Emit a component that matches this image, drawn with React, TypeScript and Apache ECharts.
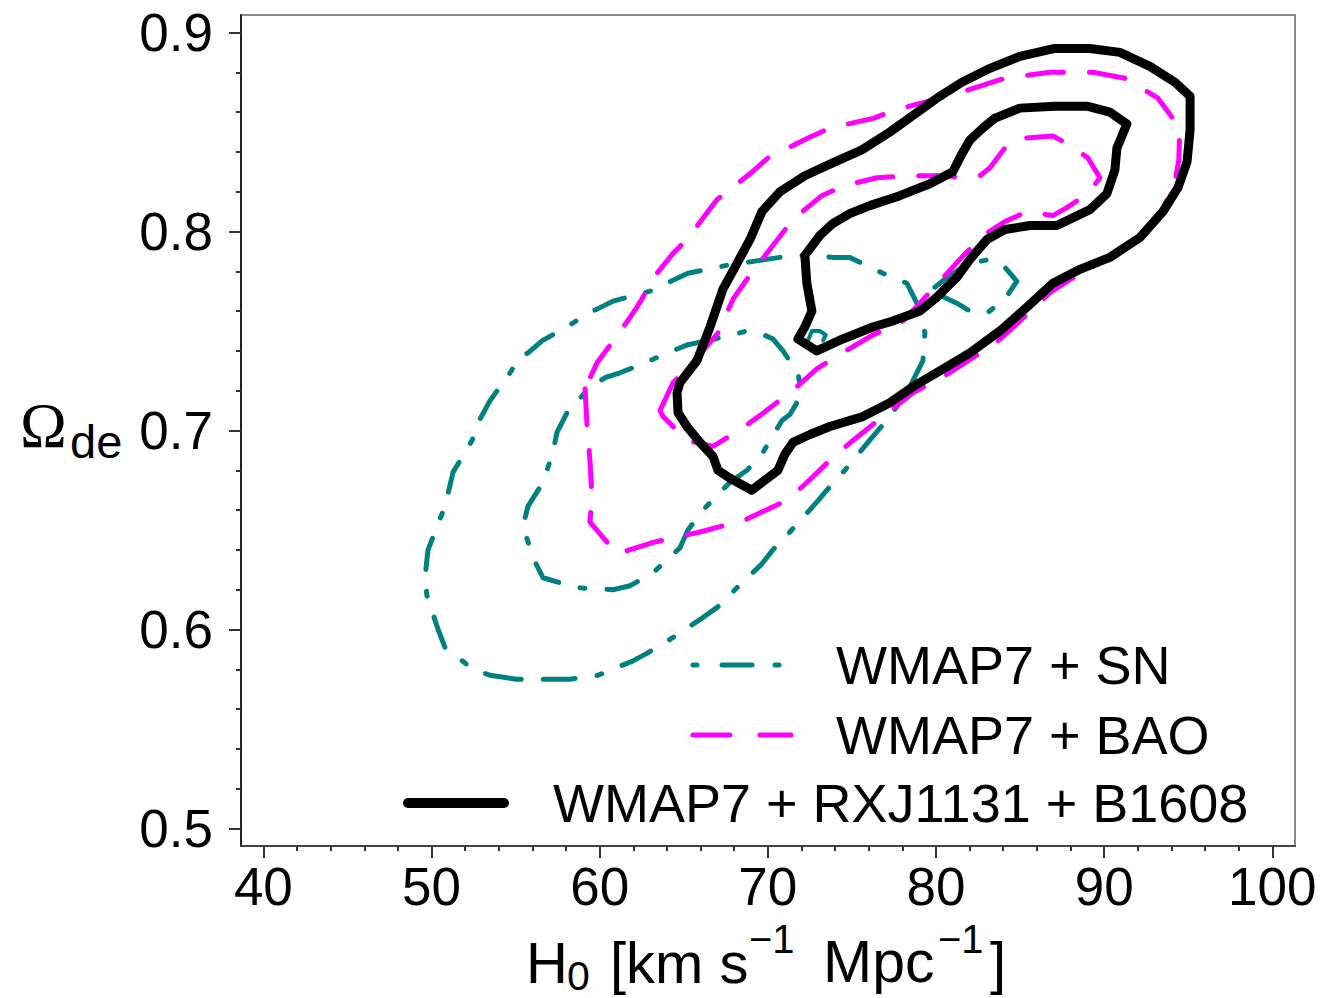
import React, { useEffect, useRef } from "react";
import * as echarts from "echarts";

// ---- axis ranges and ticks ----
const X_MIN = 38.67;
const X_MAX = 101.35;
const Y_MIN = 0.4912;
const Y_MAX = 0.9088;
const xMajorTicks = [40, 50, 60, 70, 80, 90, 100];
const xMinorTicks = [42, 44, 46, 48, 52, 54, 56, 58, 62, 64, 66, 68, 72, 74, 76, 78, 82, 84, 86, 88, 92, 94, 96, 98];
const yMajorTicks = [0.5, 0.6, 0.7, 0.8, 0.9];
const yMinorTicks = [0.52, 0.54, 0.56, 0.58, 0.62, 0.64, 0.66, 0.68, 0.72, 0.74, 0.76, 0.78, 0.82, 0.84, 0.86, 0.88];

const legendLabels = ["WMAP7 + SN", "WMAP7 + BAO", "WMAP7 + RXJ1131 + B1608"];

// ---- contours: [H0, Omega_de] ----
// WMAP7 + SN (teal, dash-dot)
const snOuter = [
  [55.08, 0.575], [53.48, 0.577], [52.47, 0.580], [50.80, 0.591], [50.39, 0.600], [49.73, 0.617],
  [49.61, 0.626], [49.79, 0.640], [50.62, 0.658], [50.92, 0.666], [51.28, 0.679], [52.41, 0.695],
  [52.77, 0.704], [53.48, 0.715], [54.67, 0.729], [55.26, 0.737], [55.74, 0.739], [56.57, 0.745],
  [58.41, 0.754], [59.30, 0.759], [59.84, 0.761], [60.79, 0.765], [62.99, 0.770], [65.25, 0.779],
  [67.57, 0.783], [70.72, 0.787], [72.09, 0.788], [73.86, 0.787], [74.87, 0.787], [76.84, 0.779],
  [78.27, 0.774], [78.86, 0.764], [79.16, 0.757], [79.34, 0.749], [79.22, 0.735], [78.27, 0.719],
  [77.67, 0.712], [76.96, 0.704], [75.95, 0.694], [74.58, 0.680], [73.51, 0.670], [72.91, 0.664],
  [71.31, 0.649], [70.30, 0.640], [69.65, 0.633], [68.04, 0.620], [66.97, 0.611], [66.14, 0.606],
  [64.18, 0.595], [62.81, 0.588], [61.92, 0.584], [59.90, 0.577], [58.23, 0.575], [57.22, 0.575],
  [55.08, 0.575],
];
const snIsland = [
  [79.93, 0.772], [80.83, 0.778], [82.02, 0.784], [83.21, 0.786], [84.10, 0.782], [84.81, 0.775],
  [84.10, 0.766], [83.03, 0.759], [82.02, 0.760], [81.24, 0.764], [80.23, 0.768], [79.93, 0.772],
];
const snInner = [
  [65.19, 0.743], [66.85, 0.746], [68.76, 0.750], [69.53, 0.749], [70.30, 0.746], [70.90, 0.740],
  [71.79, 0.729], [71.91, 0.723], [71.73, 0.714], [71.31, 0.708], [70.84, 0.705], [69.71, 0.689],
  [68.76, 0.680], [67.75, 0.674], [66.14, 0.660], [65.25, 0.650], [64.77, 0.641], [63.11, 0.628],
  [61.80, 0.622], [60.79, 0.620], [58.65, 0.621], [57.82, 0.623], [56.63, 0.626], [56.04, 0.636],
  [55.44, 0.652], [55.74, 0.662], [56.63, 0.674], [57.22, 0.689], [57.46, 0.699], [58.12, 0.710],
  [59.60, 0.723], [60.44, 0.727], [61.21, 0.729], [62.10, 0.732], [64.06, 0.739], [65.19, 0.743],
];
const snSpeck = [
  [72.38, 0.745], [72.62, 0.750], [73.09, 0.750], [73.45, 0.748], [73.21, 0.744], [72.62, 0.744], [72.38, 0.745],
];

// WMAP7 + BAO (magenta, dashed)
const baoOuter = [
  [59.13, 0.721], [59.25, 0.702], [59.42, 0.685], [59.54, 0.667], [59.42, 0.654], [61.03, 0.638],
  [63.29, 0.644], [65.96, 0.649], [68.63, 0.655], [70.90, 0.664], [72.09, 0.672], [73.69, 0.685],
  [75.06, 0.695], [76.84, 0.707], [78.63, 0.719], [80.41, 0.727], [81.72, 0.734], [83.68, 0.745],
  [84.99, 0.755], [86.72, 0.769], [88.56, 0.779], [90.46, 0.788], [92.13, 0.798], [93.31, 0.809],
  [94.15, 0.822], [94.44, 0.836], [94.50, 0.852], [93.20, 0.867], [91.23, 0.877], [89.33, 0.880],
  [86.78, 0.880], [84.10, 0.877], [81.48, 0.870], [79.34, 0.865], [77.56, 0.861], [76.31, 0.857],
  [73.69, 0.852], [72.39, 0.847], [70.01, 0.837], [68.94, 0.829], [66.97, 0.816], [66.08, 0.806],
  [65.19, 0.796], [64.36, 0.789], [63.41, 0.779], [62.22, 0.762], [61.33, 0.751], [59.84, 0.734],
  [59.13, 0.721],
];
const baoInner = [
  [63.59, 0.710], [64.36, 0.724], [65.84, 0.737], [67.03, 0.749], [67.93, 0.766], [68.76, 0.776],
  [70.30, 0.793], [71.49, 0.806], [73.21, 0.818], [74.52, 0.823], [76.48, 0.827], [78.45, 0.828],
  [80.65, 0.828], [81.72, 0.827], [82.61, 0.828], [83.21, 0.832], [84.10, 0.842], [84.69, 0.846],
  [85.41, 0.847], [86.95, 0.848], [87.84, 0.844], [89.03, 0.837], [89.75, 0.827], [89.03, 0.819],
  [87.78, 0.812], [86.95, 0.808], [85.41, 0.810], [84.10, 0.805], [82.79, 0.798], [81.42, 0.786],
  [80.23, 0.775], [79.04, 0.764], [78.03, 0.755], [76.24, 0.748], [74.64, 0.740], [72.91, 0.731],
  [71.73, 0.722], [69.77, 0.709], [68.46, 0.701], [66.74, 0.692], [65.19, 0.695], [63.77, 0.707],
  [63.59, 0.710],
];

// WMAP7 + RXJ1131 + B1608 (black, solid)
const lensOuter = [
  [69.05, 0.670], [67.75, 0.676], [67.03, 0.680], [66.74, 0.687], [65.96, 0.694], [65.19, 0.702],
  [64.66, 0.709], [64.60, 0.719], [64.77, 0.724], [65.78, 0.735], [66.56, 0.752], [67.33, 0.771],
  [68.04, 0.782], [68.94, 0.796], [69.65, 0.810], [70.72, 0.820], [72.20, 0.828], [73.99, 0.835],
  [75.59, 0.841], [77.26, 0.850], [78.74, 0.859], [80.23, 0.868], [81.54, 0.875], [83.21, 0.882],
  [84.99, 0.888], [87.07, 0.892], [89.15, 0.892], [90.94, 0.890], [92.72, 0.883], [94.21, 0.875],
  [95.11, 0.868], [95.11, 0.851], [94.93, 0.835], [94.39, 0.822], [93.50, 0.810], [92.13, 0.797],
  [90.34, 0.787], [88.56, 0.781], [86.95, 0.774], [85.41, 0.762], [83.80, 0.750], [82.02, 0.739],
  [80.23, 0.730], [78.63, 0.722], [77.26, 0.714], [75.65, 0.707], [73.69, 0.702], [72.50, 0.698],
  [71.49, 0.694], [71.01, 0.688], [70.60, 0.680], [69.05, 0.670],
];
const lensInner = [
  [72.91, 0.740], [74.46, 0.746], [76.24, 0.752], [77.43, 0.755], [79.04, 0.760], [80.05, 0.767],
  [81.24, 0.777], [82.02, 0.786], [83.03, 0.796], [84.10, 0.801], [85.59, 0.803], [87.19, 0.803],
  [89.15, 0.811], [90.16, 0.819], [90.64, 0.831], [90.76, 0.842], [91.35, 0.854], [90.34, 0.860],
  [88.98, 0.863], [87.07, 0.863], [84.99, 0.862], [83.51, 0.857], [82.79, 0.852], [82.02, 0.846],
  [81.54, 0.839], [81.00, 0.830], [79.64, 0.824], [77.85, 0.818], [76.06, 0.813], [74.87, 0.809],
  [73.86, 0.804], [73.09, 0.798], [72.20, 0.788], [72.32, 0.774], [72.62, 0.760], [72.20, 0.752],
  [71.79, 0.746], [72.91, 0.740],
];

const TEAL = "#008080";
const MAGENTA = "#ff00ff";
const BLACK = "#000000";
const FONT = "Liberation Sans";
const TEAL_DASH = [32, 22, 5, 22];
const MAGENTA_DASH = [36, 26];

function contour(data: number[][], color: string, width: number, dash: any, z: number) {
  return {
    type: "line",
    data,
    xAxisIndex: 0,
    yAxisIndex: 0,
    symbol: "none",
    silent: true,
    z,
    lineStyle: { color, width, type: dash, cap: "round", join: "round" },
  };
}

export default function App() {
  const ref = useRef<HTMLDivElement>(null);
  useEffect(() => {
    if (!ref.current) return;
    const chart = echarts.init(ref.current, undefined, { renderer: "svg" });
    const tickStyle = { color: "#333", width: 2 };
    const option: any = {
      animation: false,
      backgroundColor: "#fff",
      grid: {
        left: 241, top: 15, width: 1054, height: 831,
        show: true, borderColor: "#8a8a8a", borderWidth: 2, backgroundColor: "transparent",
      },
      xAxis: [
        {
          type: "value", min: X_MIN, max: X_MAX, position: "bottom",
          splitLine: { show: false },
          axisLine: { show: true, lineStyle: { color: "#444", width: 2 } },
          axisTick: { show: true, customValues: xMajorTicks, length: 12, lineStyle: tickStyle },
          axisLabel: { show: true, customValues: xMajorTicks, margin: 14, fontSize: 53, color: "#000", fontFamily: FONT },
        },
        {
          type: "value", min: X_MIN, max: X_MAX, position: "bottom", offset: 0,
          splitLine: { show: false },
          axisLine: { show: false },
          axisTick: { show: true, customValues: xMinorTicks, length: 5, lineStyle: tickStyle },
          axisLabel: { show: false },
        },
      ],
      yAxis: [
        {
          type: "value", min: Y_MIN, max: Y_MAX, position: "left",
          splitLine: { show: false },
          axisLine: { show: true, lineStyle: { color: "#222", width: 2 } },
          axisTick: { show: true, customValues: yMajorTicks, length: 12, lineStyle: tickStyle },
          axisLabel: { show: true, customValues: yMajorTicks, margin: 28, fontSize: 53, color: "#000", fontFamily: FONT },
        },
        {
          type: "value", min: Y_MIN, max: Y_MAX, position: "left", offset: 0,
          splitLine: { show: false },
          axisLine: { show: false },
          axisTick: { show: true, customValues: yMinorTicks, length: 5, lineStyle: tickStyle },
          axisLabel: { show: false },
        },
      ],
      series: [
        contour(snOuter, TEAL, 5, TEAL_DASH, 2),
        contour(snIsland, TEAL, 5, TEAL_DASH, 2),
        contour(snInner, TEAL, 5, TEAL_DASH, 2),
        contour(snSpeck, TEAL, 4, TEAL_DASH, 2),
        contour(baoOuter, MAGENTA, 5, MAGENTA_DASH, 3),
        contour(baoInner, MAGENTA, 5, MAGENTA_DASH, 3),
        contour(lensOuter, BLACK, 9, "solid", 4),
        contour(lensInner, BLACK, 9, "solid", 4),
      ],
      graphic: [
        // legend handles
        { type: "line", z: 10, shape: { x1: 693, y1: 665, x2: 780, y2: 665 },
          style: { stroke: TEAL, lineWidth: 5, lineCap: "round", lineDash: [4, 25, 30, 23, 4, 100] } },
        { type: "line", z: 10, shape: { x1: 693, y1: 735, x2: 791, y2: 735 },
          style: { stroke: MAGENTA, lineWidth: 5, lineCap: "round", lineDash: [37, 30, 40, 100] } },
        { type: "line", z: 10, shape: { x1: 408, y1: 803, x2: 504, y2: 803 },
          style: { stroke: BLACK, lineWidth: 10, lineCap: "round" } },
        { type: "text", z: 10, x: 836, y: 665,
          style: { text: legendLabels[0], fontSize: 54, fontFamily: FONT, fill: "#000", verticalAlign: "middle", align: "left" } },
        { type: "text", z: 10, x: 836, y: 735,
          style: { text: legendLabels[1], fontSize: 54, fontFamily: FONT, fill: "#000", verticalAlign: "middle", align: "left" } },
        { type: "text", z: 10, x: 553, y: 803,
          style: { text: legendLabels[2], fontSize: 54, fontFamily: FONT, fill: "#000", verticalAlign: "middle", align: "left" } },
        // x-axis title: H0 [km s^-1 Mpc^-1]
        { type: "text", x: 526, y: 962, style: { text: "H", fontSize: 58, fontFamily: FONT, fill: "#000", verticalAlign: "middle" } },
        { type: "text", x: 567, y: 976, style: { text: "0", fontSize: 41, fontFamily: FONT, fill: "#000", verticalAlign: "middle" } },
        { type: "text", x: 610, y: 962, style: { text: "[km s", fontSize: 58, fontFamily: FONT, fill: "#000", verticalAlign: "middle" } },
        { type: "text", x: 749, y: 939, style: { text: "\u22121", fontSize: 40, fontFamily: FONT, fill: "#000", verticalAlign: "middle" } },
        { type: "text", x: 823, y: 962, style: { text: "Mpc", fontSize: 59, fontFamily: FONT, fill: "#000", verticalAlign: "middle" } },
        { type: "text", x: 938, y: 939, style: { text: "\u22121", fontSize: 40, fontFamily: FONT, fill: "#000", verticalAlign: "middle" } },
        { type: "text", x: 990, y: 962, style: { text: "]", fontSize: 58, fontFamily: FONT, fill: "#000", verticalAlign: "middle" } },
        // y-axis title: Omega_de
        { type: "text", x: 20, y: 426, style: { text: "\u03A9", fontSize: 63, fontFamily: "Liberation Serif", fill: "#000", verticalAlign: "middle" } },
        { type: "text", x: 70, y: 441, style: { text: "de", fontSize: 47, fontFamily: FONT, fill: "#000", verticalAlign: "middle" } },
      ],
    };
    chart.setOption(option);
    return () => chart.dispose();
  }, []);
  return (
    <div
      ref={ref}
      style={{ position: "absolute", left: 0, top: 0, width: 1323, height: 998, background: "#fff" }}
    />
  );
}
